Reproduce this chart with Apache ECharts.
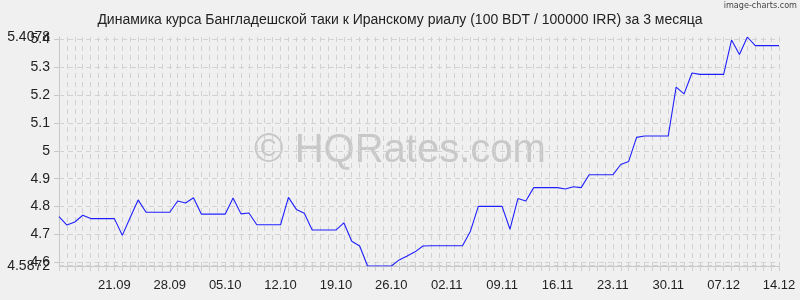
<!DOCTYPE html>
<html>
<head>
<meta charset="utf-8">
<script src="https://cdn.jsdelivr.net/npm/echarts@6/dist/echarts.min.js"></script>
<style>
html,body{margin:0;padding:0;background:#f0f0f0;}
#chart{width:800px;height:300px;}
</style>
</head>
<body>
<div id="chart"></div>
<script>
var titleText = 'Динамика курса Бангладешской таки к Иранскому риалу (100 BDT / 100000 IRR) за 3 месяца';
var watermarkText = '© HQRates.com';
var creditText = 'image-charts.com';

var dates = [
 '14.09','15.09','16.09','17.09','18.09','19.09','20.09','21.09','22.09','23.09','24.09','25.09','26.09','27.09','28.09','29.09','30.09',
 '01.10','02.10','03.10','04.10','05.10','06.10','07.10','08.10','09.10','10.10','11.10','12.10','13.10','14.10','15.10','16.10','17.10','18.10','19.10','20.10','21.10','22.10','23.10','24.10','25.10','26.10','27.10','28.10','29.10','30.10','31.10',
 '01.11','02.11','03.11','04.11','05.11','06.11','07.11','08.11','09.11','10.11','11.11','12.11','13.11','14.11','15.11','16.11','17.11','18.11','19.11','20.11','21.11','22.11','23.11','24.11','25.11','26.11','27.11','28.11','29.11','30.11',
 '01.12','02.12','03.12','04.12','05.12','06.12','07.12','08.12','09.12','10.12','11.12','12.12','13.12','14.12'
];

var rates = [
 4.764,4.734,4.745,4.769,4.757,4.757,4.757,4.757,4.697,4.761,
 4.824,4.780,4.780,4.780,4.780,4.820,4.813,4.832,4.773,4.773,
 4.773,4.773,4.831,4.774,4.777,4.735,4.735,4.735,4.735,4.833,
 4.790,4.776,4.716,4.716,4.716,4.716,4.742,4.676,4.659,4.5872,
 4.5872,4.5872,4.5872,4.609,4.623,4.638,4.659,4.660,4.660,4.660,
 4.660,4.660,4.712,4.801,4.801,4.801,4.801,4.719,4.829,4.820,
 4.868,4.868,4.868,4.868,4.863,4.871,4.868,4.914,4.914,4.914,
 4.914,4.951,4.962,5.048,5.053,5.053,5.053,5.053,5.228,5.204,
 5.279,5.274,5.274,5.274,5.274,5.397,5.345,5.4078,5.377,5.377,
 5.377,5.377
];

var yMin = 4.5872;
var yMax = 5.4078;
var yTicks = [4.6, 4.7, 4.8, 4.9, 5.0, 5.1, 5.2, 5.3, 5.4];
var yEnds = [4.5872, 5.4078];

var chart = echarts.init(document.getElementById('chart'), null, {renderer:'canvas'});
var font = 'Liberation Sans, Arial, sans-serif';
var gridDash = {color: '#d2d2d2', type: [5, 4], width: 1};

function fmt(v) { return String(Math.round(v * 10000) / 10000); }

var gridLines = yTicks.concat(yEnds).map(function (v) { return {yAxis: v}; });

chart.setOption({
  backgroundColor: '#f0f0f0',
  animation: false,
  title: {
    text: titleText, left: 'center', top: 8,
    textStyle: {fontFamily: font, fontSize: 14, fontWeight: 'normal', color: '#222'}
  },
  graphic: [
    {type:'text', left: 'center', top: 131, z: 0,
     style:{text: watermarkText, fontFamily: font, fontSize: 40, fill: '#c8c8c8'}},
    {type:'text', right: 3, top: 1,
     style:{text: creditText, fontFamily: 'DejaVu Sans Condensed, DejaVu Sans', fontSize: 9, fill: '#444'}}
  ],
  grid: {left: 59, right: 21, top: 37, bottom: 34, containLabel: false},
  xAxis: {
    type: 'category', data: dates, boundaryGap: false,
    axisLine: {show: true, lineStyle: {color: '#c8c8c8', width: 1}},
    axisTick: {show: true, interval: 0, length: 5, lineStyle: {color: '#cfcfcf'}},
    axisLabel: {
      interval: function (idx) { return idx > 0 && idx % 7 === 0; },
      margin: 13, fontFamily: font, fontSize: 13, color: '#222'
    },
    splitLine: {show: true, interval: 0, lineStyle: gridDash}
  },
  yAxis: [{
    type: 'value', min: yMin, max: yMax,
    axisLine: {show: true, lineStyle: {color: '#c8c8c8', width: 1}},
    axisTick: {show: true, length: 5, customValues: yTicks, lineStyle: {color: '#c8c8c8'}},
    axisLabel: {
      customValues: yTicks, margin: 9, fontFamily: font, fontSize: 14, color: '#222',
      formatter: fmt
    },
    splitLine: {show: false}
  }, {
    type: 'value', min: yMin, max: yMax, position: 'left', offset: 0,
    axisLine: {show: false}, axisTick: {show: false}, splitLine: {show: false},
    axisLabel: {
      customValues: yEnds, showMinLabel: true, showMaxLabel: true, margin: 9,
      fontFamily: font, fontSize: 14, color: '#222', formatter: fmt
    }
  }],
  series: [{
    type: 'line', data: rates, showSymbol: false, symbol: 'none',
    lineStyle: {color: '#2020ff', width: 1.1},
    z: 5,
    markLine: {
      silent: true, symbol: 'none', label: {show: false},
      lineStyle: gridDash, data: gridLines, z: 1
    }
  }]
});
</script>
</body>
</html>
